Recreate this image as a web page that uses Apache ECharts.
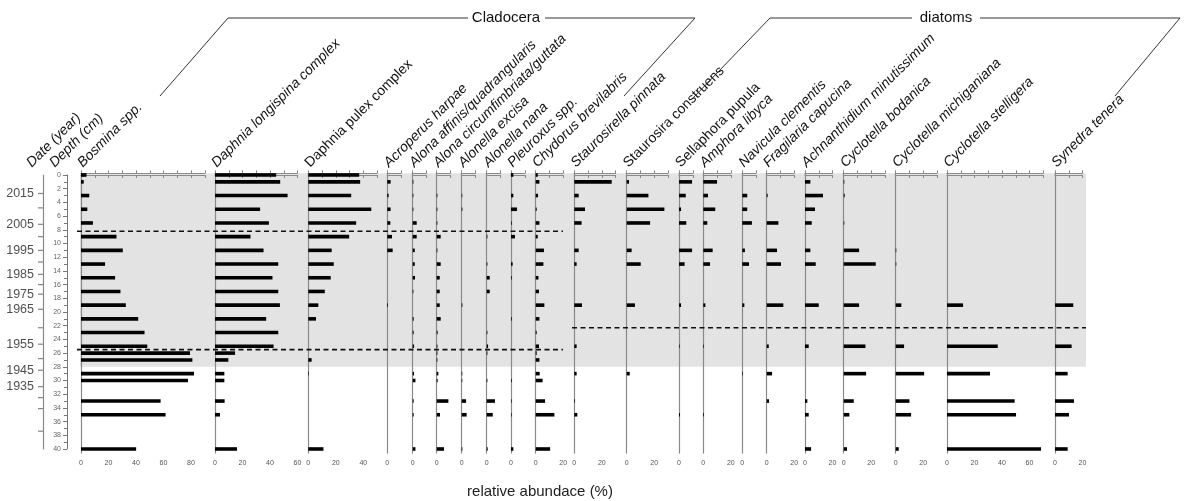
<!DOCTYPE html>
<html><head><meta charset="utf-8">
<script src="https://cdn.jsdelivr.net/npm/echarts@6.0.0/dist/echarts.min.js"></script>
<style>html,body{margin:0;padding:0;background:#fff}#c{width:1202px;height:501px}</style>
</head><body><div id="c"></div>
<script>
// ---------- DATA ----------
var depthClad = [0,1,3,5,7,9,11,13,15,17,19,21,23,25,26,27,29,30,33,35,40];
var depthDiat = [1,3,5,7,11,13,19,25,29,33,35,40];

var bosmina      = [4,2,6,4.6,8.7,25.8,30.4,17.5,24.8,28.7,32.6,41.6,46.2,48.2,79.3,81,82.2,77.8,57.9,61.5,40.1];
var daphLong     = [44.5,47.4,52.8,32.8,39.2,25.8,35.3,46,41.8,46,47.2,37.2,46,42.6,14.6,9.7,6.8,6.8,7,3.6,16];
var daphPulex    = [37,37.7,31.2,45.8,34.8,29.7,17,18.5,16.3,12,7.3,5.6,0,0,0,2.4,0.4,0,0,0,11];
var acroperus    = [0,2.4,1,2.4,2.2,3.4,3.9,0,0,0,0.5,0,0,0,0,0,0,0,0,0,0];
var alonaAff     = [0,0.5,0.5,0.5,2.9,2.9,1.5,1.5,1.7,0.5,0,0.7,0.7,1,0,0,1,2,0.7,0.7,2];
var alonaCirc    = [0,0,0.5,0.5,0.5,2.9,0.5,2.9,2.2,2.2,2.2,2.9,0.7,0.5,0.5,0.5,1.2,0.7,8.5,2.4,5.3];
var alonellaEx   = [0,0,0.3,0.5,0,0,0,0,0,0,0.5,0,0,0,0,0,0.3,0.3,3.2,3.6,0.5];
var alonellaNana = [0,0,0,0,0,0.5,0,0.5,2.2,2.2,0,0,0.5,1,0.5,0,0,0.5,6,4.4,0.7];
var pleuroxus    = [1.7,0,1.7,4.4,0.5,2.9,0,1.2,0.5,0,0,0.5,0,0,0,0,0,0.5,0.3,0.3,1.7];
var chydorus     = [1.5,2.7,1.7,0.7,2.7,1.5,6,5.6,2,2.4,6.3,2.7,0.7,2.4,0.7,2.7,2.9,5,6.8,13.6,10.5];

var stPinnata    = [27.2,3.2,7.8,5.3,3.2,1.7,5.6,1.7,1.7,0.5,2.2,0];
var stConstruens = [1.7,15.8,27.4,17,3.6,10.2,6,0,2.2,0,0,0];
var sellaphora   = [9.5,4.9,1.5,5.3,9.5,4.1,1.5,0.3,0,0,0.7,0];
var amphora      = [10,3.4,8.7,2.9,6.8,4.9,1.5,0.3,0,0,0.5,0];
var navicula     = [0,3.6,3.6,7,1.9,4.9,1.5,0,0.3,0,0,0];
var fragilaria   = [0,0.7,0,8.5,7.5,10.4,12.1,1.5,3.9,1.7,0,0];
var achnanth     = [3.9,13.1,7.3,4.9,3.9,7.8,10,2.7,0,1.7,2.7,4.4];
var cycBod       = [0.3,0.7,0,0.3,11.2,23.3,11.2,15.8,16.3,7.3,4.1,2.4];
var cycMich      = [0,0,0,0,0.3,0.3,4.1,6.1,20.7,10,11.2,2.2];
var cycStel      = [0,0,0,0,0,0,11.7,36.9,31.3,49.2,50.2,68.4];
var synedra      = [0,0,0,0,0,0,13.3,12.1,9.2,13.8,10.2,9.2];

var taxaNames = ['Bosmina spp.','Daphnia longispina complex','Daphnia pulex complex','Acroperus harpae',
  'Alona affinis/quadrangularis','Alona circumfimbriata/guttata','Alonella excisa','Alonella nana',
  'Pleuroxus spp.','Chydorus brevilabris','Staurosirella pinnata','Staurosira construens','Sellaphora pupula',
  'Amphora libyca','Navicula clementis','Fragilaria capucina','Achnanthidium minutissimum',
  'Cyclotella bodanica','Cyclotella michiganiana','Cyclotella stelligera','Synedra tenera'];
var taxaValues = [bosmina,daphLong,daphPulex,acroperus,alonaAff,alonaCirc,alonellaEx,alonellaNana,pleuroxus,chydorus,
  stPinnata,stConstruens,sellaphora,amphora,navicula,fragilaria,achnanth,cycBod,cycMich,cycStel,synedra];
var taxaGroup = ['c','c','c','c','c','c','c','c','c','c','d','d','d','d','d','d','d','d','d','d','d'];
var axisMax = [90,60,50,10,10,10,10,10,10,20,30,30,10,20,10,20,20,30,30,70,20];
var italicName = [1,1,0,1,1,1,1,1,1,1,1,0,0,1,1,1,1,1,1,1,1];

var dateLabels = ['2015','2005','1995','1985','1975','1965','1955','1945','1935'];
var dateDepths = [2.7,7.2,11.0,14.5,17.4,19.6,24.7,28.5,30.9];
var minorDateDepths = [4.8,9.0,12.7,16.0,22.3,26.8,32.5,34.1,37.4];

var grayZoneBottom = 28;
var zoneLines = [8.2, 25.5, 22.3];

// ---------- LAYOUT ----------
var PX = 1.375;
var panelLeft = [81,215,308.3,387.3,412.7,436.7,461.7,486.7,511,535.7,574.3,626.7,679,703.3,742.3,766.7,805,843.7,895.7,947,1055];
var PTOP = 173.3, PH = 279.8, YMIN = -0.25, YMAX = 40.6;

var grids = [], xAxes = [], yAxes = [], series = [];
var font = '"Liberation Sans", Arial, sans-serif';

function barRender(params, api){
  var v = api.value(0), d = api.value(1);
  var p0 = api.coord([0, d]), p1 = api.coord([v, d]);
  var h = 3.6;
  return {type:'rect', shape:{x:p0[0], y:p0[1]-h/2, width:Math.max(p1[0]-p0[0],0.6), height:h}, style:{fill:'#000'}};
}

// overlay grid (gray zone + zone lines)
grids.push({left:0, top:PTOP, width:1202, height:PH});
xAxes.push({gridIndex:0, type:'value', min:0, max:1202, show:false});
yAxes.push({gridIndex:0, type:'value', min:YMIN, max:YMAX, inverse:true, show:false});
series.push({type:'custom', xAxisIndex:0, yAxisIndex:0, z:0, silent:true,
  data:[[80, YMIN, 1086, grayZoneBottom]],
  renderItem:function(p, api){
    var a = api.coord([api.value(0), api.value(1)]), b = api.coord([api.value(2), api.value(3)]);
    return {type:'rect', shape:{x:a[0], y:a[1], width:b[0]-a[0], height:b[1]-a[1]}, style:{fill:'#e3e3e3'}};
  }});
series.push({type:'custom', xAxisIndex:0, yAxisIndex:0, z:10, silent:true,
  data:[[77, zoneLines[0], 563],[77, zoneLines[1], 563],[572, zoneLines[2], 1086]],
  renderItem:function(p, api){
    var a = api.coord([api.value(0), api.value(1)]), b = api.coord([api.value(2), api.value(1)]);
    return {type:'line', shape:{x1:a[0], y1:a[1], x2:b[0], y2:b[1]}, style:{stroke:'#111', lineWidth:1.6, lineDash:[5,3.5]}};
  }});

// date axis grid
grids.push({left:43, top:175, width:1, height:274});
xAxes.push({gridIndex:1, type:'value', min:0, max:1, show:false});
yAxes.push({gridIndex:1, type:'value', min:0, max:40, inverse:true, z:3,
  axisLine:{show:true, lineStyle:{color:'#888', width:1.2}}, axisTick:{show:false}, axisLabel:{show:false}, splitLine:{show:false}});
series.push({type:'scatter', xAxisIndex:1, yAxisIndex:1, z:4, silent:true,
  symbol:'rect', symbolSize:[5,1.2], symbolOffset:[-2.5,0], itemStyle:{color:'#666'},
  data: dateDepths.map(function(d,i){ return {value:[0,d], label:{show:true, formatter:dateLabels[i]}}; })
    .concat(minorDateDepths.map(function(d){ return [0,d]; })),
  label:{show:false, position:'left', distance:4, color:'#222', fontSize:12.5, fontFamily:font}
});

// depth axis grid
grids.push({left:67, top:175, width:1, height:274});
xAxes.push({gridIndex:2, type:'value', min:0, max:1, show:false});
yAxes.push({gridIndex:2, type:'value', min:0, max:40, interval:2, inverse:true, z:3,
  axisLine:{show:true, lineStyle:{color:'#777', width:1}},
  axisTick:{show:true, length:4, lineStyle:{color:'#777'}},
  minorTick:{show:true, splitNumber:2, length:3, lineStyle:{color:'#777'}},
  axisLabel:{show:true, fontSize:7, color:'#666', margin:6, fontFamily:font},
  splitLine:{show:false}, minorSplitLine:{show:false}});

// panels
for (var i = 0; i < taxaNames.length; i++) {
  var gi = grids.length;
  grids.push({left:panelLeft[i], top:PTOP, width:axisMax[i]*PX, height:PH});
  var axLine = {show:true, lineStyle:{color:'#8a8a8a', width:1}};
  xAxes.push({gridIndex:gi, type:'value', position:'bottom', min:0, max:axisMax[i], interval:10, z:3,
    axisLine:axLine, axisTick:{show:true, length:3, lineStyle:{color:'#8a8a8a'}},
    axisLabel:{show:true, fontSize:7, color:'#555', margin:6, fontFamily:font,
      formatter:function(v){ return (v % 20 === 0) ? String(v) : ''; }},
    splitLine:{show:false}});
  xAxes.push({gridIndex:gi, type:'value', position:'top', min:0, max:axisMax[i], interval:10, z:3,
    axisLine:axLine, axisTick:{show:true, length:3, lineStyle:{color:'#8a8a8a'}},
    axisLabel:{show:false}, splitLine:{show:false}});
  yAxes.push({gridIndex:gi, type:'value', min:YMIN, max:YMAX, inverse:true, z:3,
    axisLine:{show:true, onZero:false, lineStyle:{color:'#8a8a8a', width:1.2}}, axisTick:{show:false}, axisLabel:{show:false}, splitLine:{show:false}});
  var depths = taxaGroup[i] === 'c' ? depthClad : depthDiat;
  var vals = taxaValues[i];
  var data = [];
  for (var k = 0; k < vals.length; k++) if (vals[k] > 0) data.push([vals[k], depths[k]]);
  series.push({type:'custom', name:taxaNames[i], xAxisIndex:xAxes.length-2, yAxisIndex:yAxes.length-1, z:5, clip:false,
    silent:true, renderItem:barRender, encode:{x:0, y:1}, data:data});
}

// ---------- HEADER GRAPHICS ----------
var rot = 45 * Math.PI / 180;
var graphics = [];
function label(txt, x, italic){
  graphics.push({type:'text', x:x, y:170, rotation:rot, z:20,
    style:{text:txt, fill:'#111', font:(italic ? 'italic ' : '') + '14px ' + font,
      textAlign:'left', textVerticalAlign:'bottom', align:'left', verticalAlign:'bottom'}});
}
label('Date (year)', 34, true);
label('Depth (cm)', 57, true);
for (var j = 0; j < taxaNames.length; j++) label(taxaNames[j], panelLeft[j] + 4, italicName[j]);

var ls = {stroke:'#333', lineWidth:1, fill:null};
graphics.push({type:'polyline', shape:{points:[[160,96],[228,18],[468,18]]}, style:ls, z:20});
graphics.push({type:'polyline', shape:{points:[[545,18],[695,18],[624,96]]}, style:ls, z:20});
graphics.push({type:'polyline', shape:{points:[[693,98],[770,18],[912,18]]}, style:ls, z:20});
graphics.push({type:'polyline', shape:{points:[[980,18],[1180,18],[1115,96]]}, style:ls, z:20});
graphics.push({type:'text', x:506, y:18, z:20, style:{text:'Cladocera', fill:'#111', font:'15px ' + font,
  textAlign:'center', textVerticalAlign:'middle', align:'center', verticalAlign:'middle'}});
graphics.push({type:'text', x:946, y:18, z:20, style:{text:'diatoms', fill:'#111', font:'15px ' + font,
  textAlign:'center', textVerticalAlign:'middle', align:'center', verticalAlign:'middle'}});
graphics.push({type:'text', x:540, y:492, z:20, style:{text:'relative abundace (%)', fill:'#222', font:'15px ' + font,
  textAlign:'center', textVerticalAlign:'middle', align:'center', verticalAlign:'middle'}});

var chart = echarts.init(document.getElementById('c'), null, {renderer:'canvas'});
chart.setOption({
  animation:false,
  backgroundColor:'#fff',
  textStyle:{fontFamily:font},
  grid:grids, xAxis:xAxes, yAxis:yAxes, series:series, graphic:graphics
});
</script></body></html>
